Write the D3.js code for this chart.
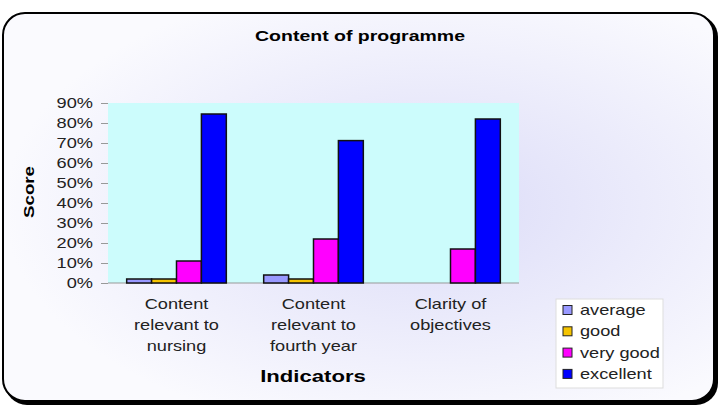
<!DOCTYPE html>
<html>
<head>
<meta charset="utf-8">
<script src="https://cdn.jsdelivr.net/npm/d3@7"></script>
<style>
  html, body { margin: 0; padding: 0; background: #fff; }
  svg { display: block; font-family: "Liberation Sans", Arial, sans-serif; }
</style>
</head>
<body>
<svg id="chart" width="721" height="406"></svg>
<script>
// Content of programme - grouped bars

const categories = [
    ['Content', 'relevant to', 'nursing'],
    ['Content', 'relevant to', 'fourth year'],
    ['Clarity of', 'objectives']
];
const seriesNames = ['average', 'good', 'very good', 'excellent'];
const seriesColors = ['#9999ff', '#f5c400', '#ff00ff', '#0000ff'];
const average = [2, 4, 0];
const good = [2, 2, 0];
const veryGood = [11, 22, 17];
const excellent = [84.5, 71.2, 82];
const yTicks = [0, 10, 20, 30, 40, 50, 60, 70, 80, 90];

const values = [average, good, veryGood, excellent];

// the original picture is stretched sideways, so text gets the same stretch
const SX = 1.3;

const svg = d3.select('#chart');
const plot = { left: 108, right: 519, top: 103, bottom: 283 };

function label(x, y, str, size, opts = {}) {
    return svg.append('text')
        .attr('transform', `translate(${x},${y}) scale(${SX},1)`)
        .attr('text-anchor', opts.anchor || 'middle')
        .attr('font-size', size)
        .attr('font-weight', opts.bold ? 'bold' : null)
        .attr('fill', opts.bold ? '#000' : '#222')
        .text(str);
}

// background gradient + frame
const defs = svg.append('defs');
const grad = defs.append('radialGradient')
    .attr('id', 'bg')
    .attr('cx', '0.6').attr('cy', '0.5').attr('r', '0.6');
grad.append('stop').attr('offset', '0%').attr('stop-color', '#dcdcf8');
grad.append('stop').attr('offset', '100%').attr('stop-color', '#fafafe');

svg.append('rect')
    .attr('x', 5).attr('y', 15).attr('width', 713).attr('height', 390)
    .attr('rx', 22).attr('fill', '#000');
svg.append('rect')
    .attr('x', 3).attr('y', 13).attr('width', 711).attr('height', 388)
    .attr('rx', 22).attr('fill', 'url(#bg)')
    .attr('stroke', '#000').attr('stroke-width', 2);

label(360, 41, 'Content of programme', 15, { bold: true });

// scales
const x0 = d3.scaleBand()
    .domain(d3.range(categories.length))
    .range([plot.left, plot.right]);
const x1 = d3.scaleBand()
    .domain(d3.range(seriesNames.length))
    .range([0, x0.bandwidth()])
    .paddingOuter(0.75);
const y = d3.scaleLinear().domain([0, 90]).range([plot.bottom, plot.top]);

svg.append('rect')
    .attr('x', plot.left).attr('y', plot.top)
    .attr('width', plot.right - plot.left).attr('height', plot.bottom - plot.top)
    .attr('fill', '#ccfcfc');

// y axis
const yAxis = svg.append('g')
    .attr('transform', `translate(${plot.left},0)`)
    .call(d3.axisLeft(y).tickValues(yTicks).tickSize(7)
        .tickFormat(d => d + '%'));
yAxis.select('.domain').remove();
yAxis.selectAll('line').attr('stroke', '#999');
yAxis.selectAll('text')
    .attr('x', -15 / SX)
    .attr('transform', `scale(${SX},1)`)
    .attr('font-size', 14).attr('fill', '#222')
    .attr('font-family', '"Liberation Sans", Arial, sans-serif');

// x baseline
svg.append('line')
    .attr('x1', plot.left).attr('x2', plot.right)
    .attr('y1', plot.bottom).attr('y2', plot.bottom)
    .attr('stroke', '#999');

// bars
seriesNames.forEach((name, s) => {
    svg.append('g')
        .selectAll('rect')
        .data(values[s].map((v, i) => ({ v, i })).filter(d => d.v > 0))
        .join('rect')
        .attr('x', d => x0(d.i) + x1(s))
        .attr('y', d => y(d.v))
        .attr('width', x1.bandwidth())
        .attr('height', d => y(0) - y(d.v))
        .attr('fill', seriesColors[s])
        .attr('stroke', '#111')
        .attr('stroke-width', 1.5);
});

// category labels
categories.forEach((lines, i) => {
    lines.forEach((ln, k) => {
        label(x0(i) + x0.bandwidth() / 2, 309 + k * 21, ln, 14);
    });
});

label(313, 382, 'Indicators', 17, { bold: true });

svg.append('text')
    .attr('transform', `translate(34,192) scale(${SX},1) rotate(-90)`)
    .attr('text-anchor', 'middle')
    .attr('font-size', 11).attr('font-weight', 'bold')
    .attr('textLength', 52).attr('lengthAdjust', 'spacingAndGlyphs')
    .text('Score');

// legend
const legend = svg.append('g');
legend.append('rect')
    .attr('x', 556).attr('y', 299).attr('width', 107).attr('height', 89)
    .attr('fill', '#fff').attr('stroke', '#ddd');
seriesNames.forEach((name, s) => {
    const ly = 310 + s * 21.3;
    legend.append('rect')
        .attr('x', 563).attr('y', ly - 4.5).attr('width', 9).attr('height', 9)
        .attr('fill', seriesColors[s]).attr('stroke', '#222');
    label(580, ly + 5, name, 14, { anchor: 'start' });
});
</script>
</body>
</html>
